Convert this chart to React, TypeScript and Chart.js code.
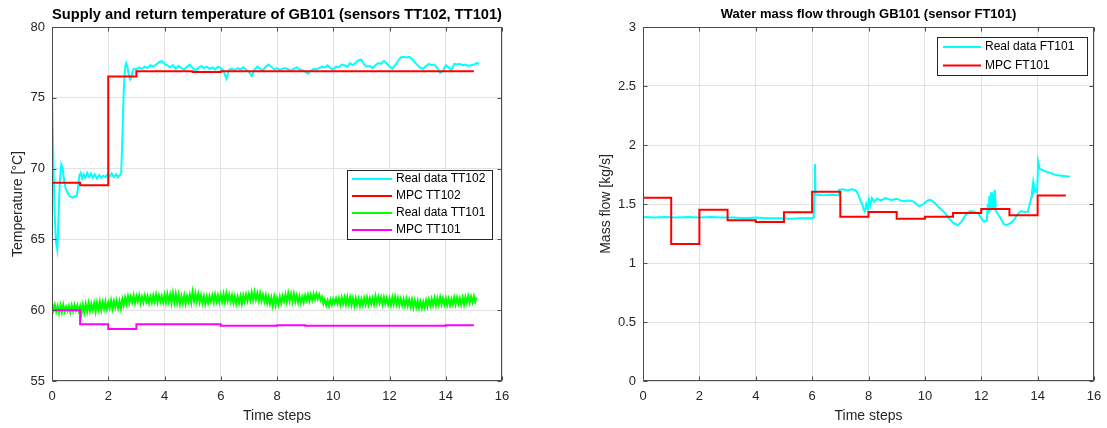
import React, { useEffect, useRef } from "react";
import { Chart, registerables } from "chart.js";
Chart.register(...registerables);

const FONT = "'Liberation Sans', Arial, Helvetica, sans-serif";
const AXIS_COLOR = "#4d4d4d";
const TEXT_COLOR = "#262626";
const GRID_COLOR = "#e2e2e2";
const SAMPLE_DT = 0.1;
const TT101_DT = 0.05;

// ---------- Left chart: temperatures ----------
const TT102_TRANSIENT_T = [0, 0.04, 0.09, 0.14, 0.19, 0.23, 0.28, 0.33, 0.38, 0.44, 0.5, 0.58, 0.66, 0.74, 0.82, 0.88, 0.93, 0.97, 1.02, 1.07, 1.12, 1.18, 1.25, 1.32, 1.38, 1.45, 1.52, 1.6, 1.68, 1.75, 1.82, 1.9, 1.98, 2.05, 2.12, 2.2, 2.28, 2.35, 2.42, 2.46, 2.5, 2.55, 2.6, 2.64, 2.68, 2.73, 2.78, 2.83, 2.88, 2.95];
const TT102_TRANSIENT_V = [75.2, 71.5, 67.0, 64.8, 64.25, 66.5, 69.2, 70.3, 70.0, 69.0, 68.5, 68.2, 68.0, 67.95, 68.05, 68.1, 68.7, 69.5, 69.7, 69.3, 69.6, 69.35, 69.7, 69.4, 69.65, 69.35, 69.6, 69.3, 69.55, 69.35, 69.5, 69.4, 69.6, 69.45, 69.65, 69.4, 69.6, 69.4, 69.55, 69.7, 72.0, 75.5, 77.2, 77.45, 77.2, 76.6, 76.3, 76.5, 77.0, 77.05];
const TT102_STEADY_START = 3.0;
const TT102_STEADY_V = [
  77.0, 77.15, 77.05, 77.2, 77.1, 77.3, 77.2, 77.35, 77.5, 77.6,
  77.4, 77.3, 77.15, 77.3, 77.05, 77.25, 77.1, 77.0, 77.2, 77.35,
  77.1, 76.95, 77.1, 77.25, 77.1, 77.2, 77.05, 77.15, 77.0, 77.2,
  77.1, 76.9, 76.35, 77.0, 77.05, 76.95, 77.1, 77.0, 77.15, 77.0,
  76.85, 76.55, 77.0, 77.2, 77.05, 76.95, 77.2, 77.35, 77.2, 77.0,
  77.1, 76.95, 77.05, 77.1, 77.0, 76.9, 77.05, 77.15, 77.0, 76.95,
  76.85, 76.7, 76.9, 77.05, 77.0, 77.1, 77.2, 77.15, 77.3, 77.1,
  77.0, 77.2, 77.15, 77.35, 77.3, 77.2, 77.45, 77.3, 77.5, 77.65,
  77.7, 77.35, 77.2, 77.25, 77.1, 77.3, 77.45, 77.4, 77.6, 77.45,
  77.2, 77.05, 77.3, 77.6, 77.85, 77.9, 77.85, 77.9, 77.75, 77.5,
  77.3, 77.1, 77.05, 77.25, 77.4, 77.3, 77.35, 77.1, 76.75, 76.9,
  77.3, 77.15, 76.95, 77.4, 77.35, 77.4, 77.3, 77.35, 77.25, 77.3,
  77.35, 77.45, 77.4,
];

// sampled every TT101_DT from t = 0
const TT101_REAL_V = [
  60.5, 60.0, 60.4, 59.9, 60.3, 59.8, 60.35, 59.85, 60.4, 59.9, 60.25, 59.95, 60.3, 59.85, 60.35, 59.95, 60.4, 60.0, 60.35, 59.95,
  60.3, 59.75, 60.4, 59.85, 60.45, 59.9, 60.5, 59.95, 60.45, 60.0, 60.5, 59.9, 60.55, 60.05, 60.6, 60.0, 60.55, 60.1, 60.6, 60.05,
  60.55, 60.15, 60.7, 60.1, 60.65, 60.2, 60.7, 60.15, 60.65, 60.1, 60.8, 60.35, 60.9, 60.45, 61.0, 60.5, 60.95, 60.55, 61.05, 60.5,
  61.0, 60.6, 61.05, 60.5, 60.95, 60.55, 61.05, 60.6, 61.0, 60.5, 60.95, 60.55, 61.05, 60.6, 61.1, 60.55, 61.05, 60.6, 61.0, 60.55,
  61.1, 60.55, 61.15, 60.6, 61.1, 60.5, 61.2, 60.55, 61.15, 60.5, 61.1, 60.45, 61.0, 60.5, 61.05, 60.45, 61.0, 60.6, 61.1, 60.55,
  61.3, 60.65, 61.2, 60.6, 61.15, 60.55, 61.05, 60.5, 61.0, 60.45, 60.95, 60.5, 61.0, 60.6, 61.05, 60.55, 61.1, 60.6, 61.05, 60.55,
  61.1, 60.6, 61.15, 60.55, 61.2, 60.65, 61.1, 60.6, 61.05, 60.5, 61.0, 60.45, 60.95, 60.5, 61.0, 60.45, 61.05, 60.6, 61.1, 60.65,
  61.15, 60.7, 61.25, 60.7, 61.3, 60.75, 61.2, 60.7, 61.2, 60.65, 61.1, 60.6, 61.05, 60.5, 60.95, 60.45, 60.9, 60.3, 60.95, 60.35,
  60.85, 60.4, 60.95, 60.5, 61.0, 60.6, 61.1, 60.55, 61.2, 60.65, 61.15, 60.6, 61.15, 60.6, 61.05, 60.55, 61.0, 60.5, 60.95, 60.55,
  61.05, 60.7, 61.1, 60.65, 61.1, 60.7, 61.15, 60.75, 61.15, 60.8, 61.1, 60.7, 60.95, 60.45, 60.75, 60.35, 60.7, 60.3, 60.75, 60.4,
  60.8, 60.5, 60.85, 60.45, 60.85, 60.4, 60.9, 60.45, 60.9, 60.4, 60.95, 60.45, 60.9, 60.35, 60.85, 60.3, 60.85, 60.35, 60.8, 60.3,
  60.8, 60.35, 60.85, 60.4, 60.9, 60.4, 60.85, 60.45, 60.85, 60.4, 61.0, 60.5, 60.95, 60.5, 60.9, 60.4, 60.9, 60.45, 60.85, 60.4,
  60.85, 60.35, 60.9, 60.4, 60.95, 60.4, 60.85, 60.35, 60.8, 60.35, 60.8, 60.3, 60.8, 60.3, 60.75, 60.25, 60.75, 60.2, 60.7, 60.2,
  60.65, 60.15, 60.6, 60.15, 60.6, 60.2, 60.7, 60.25, 60.75, 60.3, 60.8, 60.35, 60.85, 60.35, 60.85, 60.4, 60.9, 60.4, 60.85, 60.4,
  60.85, 60.35, 60.8, 60.35, 60.8, 60.4, 60.9, 60.4, 60.9, 60.45, 60.85, 60.4, 60.9, 60.4, 60.95, 60.5, 61.0, 60.5, 60.95, 60.55,
  61.0, 60.6, 60.9,
];

const MPC_STEPS = [0, 1, 2, 3, 4, 5, 6, 7, 8, 9, 10, 11, 12, 13, 14, 15];
const MPC_TT102 = [69.0, 68.82, 76.5, 76.87, 76.87, 76.82, 76.87, 76.87, 76.87, 76.87, 76.87, 76.87, 76.87, 76.87, 76.87];
const MPC_TT101 = [60.0, 59.0, 58.68, 59.0, 59.0, 59.0, 58.9, 58.9, 58.94, 58.9, 58.9, 58.9, 58.9, 58.9, 58.94];

// ---------- Right chart: mass flow ----------
const FT101_T = [0, 0.4, 0.8, 1.2, 1.6, 2.0, 2.4, 2.8, 3.2, 3.6, 4.0, 4.4, 4.8, 5.2, 5.6, 6.0, 6.06, 6.08, 6.1, 6.12, 6.4, 6.7, 6.92, 6.95, 7.1, 7.25, 7.4, 7.56, 7.65, 7.72, 7.78, 7.83, 7.87, 7.92, 7.97, 8.02, 8.07, 8.12, 8.2, 8.3, 8.45, 8.6, 8.8, 9.0, 9.2, 9.45, 9.6, 9.7, 9.8, 9.95, 10.1, 10.2, 10.35, 10.5, 10.67, 10.85, 11.0, 11.17, 11.3, 11.45, 11.6, 11.75, 11.9, 12.0, 12.1, 12.2, 12.23, 12.26, 12.29, 12.32, 12.35, 12.38, 12.41, 12.44, 12.48, 12.52, 12.58, 12.66, 12.8, 12.9, 13.05, 13.16, 13.28, 13.4, 13.55, 13.65, 13.72, 13.78, 13.8, 13.84, 13.87, 13.92, 13.98, 14.02, 14.07, 14.15, 14.3, 14.5, 14.65, 14.85, 15.0, 15.15];
const FT101_REAL = [1.39, 1.385, 1.39, 1.385, 1.39, 1.385, 1.39, 1.385, 1.385, 1.38, 1.385, 1.38, 1.38, 1.375, 1.38, 1.38, 1.385, 1.58, 1.84, 1.58, 1.575, 1.578, 1.575, 1.62, 1.625, 1.615, 1.625, 1.615, 1.57, 1.52, 1.5, 1.45, 1.435, 1.5, 1.46, 1.54, 1.49, 1.55, 1.52, 1.545, 1.53, 1.55, 1.535, 1.545, 1.525, 1.53, 1.52, 1.5, 1.48, 1.5, 1.53, 1.535, 1.51, 1.47, 1.435, 1.38, 1.34, 1.32, 1.35, 1.41, 1.44, 1.435, 1.42, 1.38, 1.35, 1.36, 1.5, 1.42, 1.57, 1.44, 1.6, 1.45, 1.58, 1.46, 1.62, 1.44, 1.42, 1.39, 1.33, 1.32, 1.34, 1.365, 1.41, 1.44, 1.43, 1.435, 1.5, 1.56, 1.6, 1.68, 1.6, 1.62, 1.6, 1.86, 1.8, 1.79, 1.775, 1.76, 1.745, 1.74, 1.735, 1.73];
const MPC_FT101 = [1.553, 1.16, 1.452, 1.362, 1.348, 1.43, 1.604, 1.393, 1.433, 1.376, 1.393, 1.424, 1.458, 1.404, 1.573];

const X_TICK_STEP = 2;

function pairs(ts: number[], vs: number[]) {
  return ts.map((t, i) => ({ x: t, y: vs[i] }));
}
function uniform(start: number, dt: number, vs: number[]) {
  return vs.map((v, i) => ({ x: +(start + i * dt).toFixed(3), y: v }));
}
function steps(vs: number[]) {
  return MPC_STEPS.map((t, i) => ({ x: t, y: vs[Math.min(i, vs.length - 1)] }));
}

const frameAndLegend = {
  id: "frameAndLegend",
  afterDraw(chart: any, _args: any, opts: any) {
    const { ctx, chartArea: a, scales } = chart;
    ctx.save();
    ctx.strokeStyle = AXIS_COLOR;
    ctx.lineWidth = 1;
    const L = Math.round(a.left) + 0.5, T = Math.round(a.top) + 0.5;
    const R = Math.round(a.right) - 0.5, B = Math.round(a.bottom) - 0.5;
    ctx.strokeRect(L, T, R - L, B - T);
    ctx.beginPath();
    const xs = scales.x, ys = scales.y;
    xs.ticks.forEach((t: any) => {
      const px = Math.round(xs.getPixelForValue(t.value)) + 0.5;
      ctx.moveTo(px, B); ctx.lineTo(px, B - 4);
      ctx.moveTo(px, T); ctx.lineTo(px, T + 4);
    });
    ys.ticks.forEach((t: any) => {
      const py = Math.round(ys.getPixelForValue(t.value)) + 0.5;
      ctx.moveTo(L, py); ctx.lineTo(L + 4, py);
      ctx.moveTo(R, py); ctx.lineTo(R - 4, py);
    });
    ctx.stroke();

    const lg = opts.legend;
    if (lg) {
      ctx.fillStyle = "#ffffff";
      ctx.fillRect(lg.x, lg.y, lg.w, lg.h);
      ctx.strokeStyle = "#262626";
      ctx.lineWidth = 1;
      ctx.strokeRect(lg.x + 0.5, lg.y + 0.5, lg.w, lg.h);
      ctx.font = `12px ${FONT}`;
      ctx.textBaseline = "middle";
      ctx.textAlign = "left";
      chart.data.datasets.forEach((ds: any, i: number) => {
        const y = lg.firstRow + i * lg.rowH;
        ctx.strokeStyle = ds.borderColor;
        ctx.lineWidth = 2;
        ctx.beginPath();
        ctx.moveTo(lg.x + lg.lineStart, y);
        ctx.lineTo(lg.x + lg.lineEnd, y);
        ctx.stroke();
        ctx.fillStyle = "#000000";
        ctx.fillText(ds.label, lg.x + lg.textStart, y);
      });
    }
    ctx.restore();
  },
};

function baseOptions(cfg: any) {
  return {
    responsive: false,
    animation: false,
    devicePixelRatio: 1,
    layout: { padding: { left: 0, right: cfg.padRight, top: 0, bottom: 0 } },
    plugins: {
      legend: { display: false },
      tooltip: { enabled: false },
      title: {
        display: true,
        text: cfg.title,
        fullSize: false,
        color: "#000000",
        font: { family: FONT, size: cfg.titleSize, weight: "bold" },
        padding: { top: cfg.titlePadTop, bottom: 27 - cfg.titlePadTop - cfg.titleSize * 1.2 },
      },
      frameAndLegend: { legend: cfg.legend },
    },
    scales: {
      x: {
        type: "linear",
        min: 0,
        max: 16,
        ticks: { stepSize: X_TICK_STEP, color: TEXT_COLOR, font: { family: FONT, size: 13 }, padding: 8, maxRotation: 0 },
        grid: { color: GRID_COLOR, drawTicks: false },
        border: { display: false },
        title: { display: true, text: "Time steps", color: TEXT_COLOR, font: { family: FONT, size: 14 }, padding: { top: 0, bottom: 3 } },
        afterFit: (s: any) => { s.height = 47; s.paddingLeft = 0; s.paddingRight = 0; },
      },
      y: {
        type: "linear",
        min: cfg.yMin,
        max: cfg.yMax,
        ticks: {
          stepSize: cfg.yStep,
          color: TEXT_COLOR,
          font: { family: FONT, size: 13 },
          padding: 7,
          callback: (v: any) => String(Math.round(Number(v) * 100) / 100),
        },
        grid: { color: GRID_COLOR, drawTicks: false },
        border: { display: false },
        title: { display: true, text: cfg.yTitle, color: TEXT_COLOR, font: { family: FONT, size: 14 }, padding: { top: cfg.yTitlePad, bottom: 0 } },
        afterFit: (s: any) => { s.width = cfg.yWidth; s.paddingTop = 0; s.paddingBottom = 0; },
      },
    },
    elements: { point: { radius: 0 }, line: { borderWidth: 2, tension: 0 } },
  };
}

export default function App() {
  const leftRef = useRef<HTMLCanvasElement>(null);
  const rightRef = useRef<HTMLCanvasElement>(null);

  useEffect(() => {
    const left = new Chart(leftRef.current!, {
      type: "line",
      data: {
        datasets: [
          { label: "Real data TT102", data: [...pairs(TT102_TRANSIENT_T, TT102_TRANSIENT_V), ...uniform(TT102_STEADY_START, SAMPLE_DT, TT102_STEADY_V)], borderColor: "#00ffff", order: 4 },
          { label: "MPC TT102", data: steps(MPC_TT102), borderColor: "#ff0000", stepped: "before", order: 3 },
          { label: "Real data TT101", data: uniform(0, TT101_DT, TT101_REAL_V), borderColor: "#00ff00", order: 2 },
          { label: "MPC TT101", data: steps(MPC_TT101), borderColor: "#ff00ff", stepped: "before", order: 1 },
        ],
      },
      options: baseOptions({
        title: "Supply and return temperature of GB101 (sensors TT102, TT101)",
        titleSize: 15.5, titlePadTop: 5.5,
        padRight: 58,
        yMin: 55, yMax: 80, yStep: 5,
        yTitle: "Temperature [°C]", yTitlePad: 9.6, yWidth: 52,
        legend: { x: 347, y: 170, w: 145, h: 69, firstRow: 179, rowH: 17, lineStart: 5, lineEnd: 45, textStart: 49 },
      }) as any,
      plugins: [frameAndLegend],
    });
    const right = new Chart(rightRef.current!, {
      type: "line",
      data: {
        datasets: [
          { label: "Real data FT101", data: pairs(FT101_T, FT101_REAL), borderColor: "#00ffff", order: 2 },
          { label: "MPC FT101", data: steps(MPC_FT101), borderColor: "#ff0000", stepped: "before", order: 1 },
        ],
      },
      options: baseOptions({
        title: "Water mass flow through GB101 (sensor FT101)",
        titleSize: 13, titlePadTop: 7,
        padRight: 13,
        yMin: 0, yMax: 3, yStep: 0.5,
        yTitle: "Mass flow [kg/s]", yTitlePad: 37.6, yWidth: 83,
        legend: { x: 377, y: 37, w: 150, h: 38, firstRow: 47, rowH: 18.5, lineStart: 6, lineEnd: 44, textStart: 48 },
      }) as any,
      plugins: [frameAndLegend],
    });
    return () => { left.destroy(); right.destroy(); };
  }, []);

  return (
    <div style={{ position: "fixed", left: 0, top: 0, width: 1107, height: 428, background: "#fff" }}>
      <canvas ref={leftRef} width={560} height={428} style={{ position: "absolute", left: 0, top: 0, width: 560, height: 428 }} />
      <canvas ref={rightRef} width={547} height={428} style={{ position: "absolute", left: 560, top: 0, width: 547, height: 428 }} />
    </div>
  );
}
